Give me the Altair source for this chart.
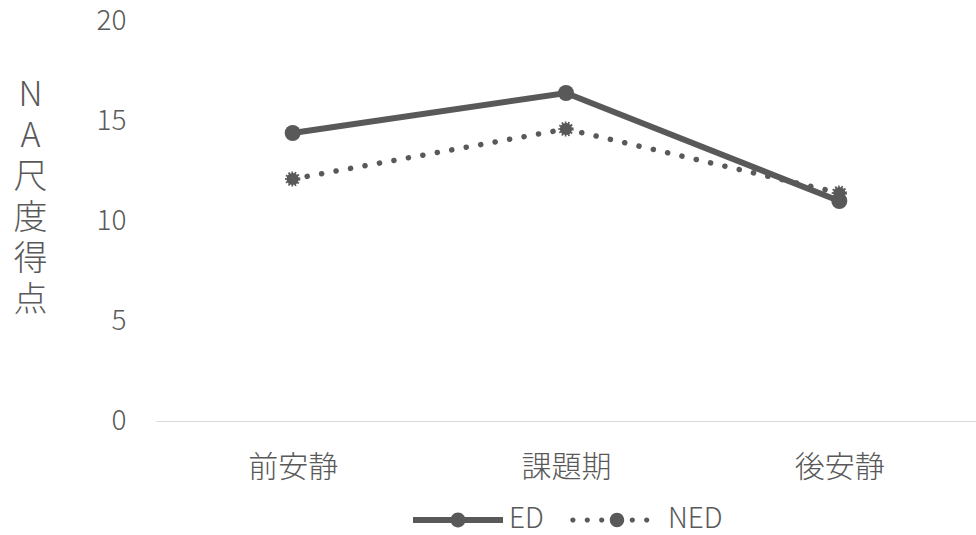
import altair as alt
import pandas as pd

# Period labels and mean NA scale scores per group
phases = ["前安静", "課題期", "後安静"]
series = ["ED", "NED"]
ed_scores = [14.4, 16.4, 11.0]
ned_scores = [12.1, 14.6, 11.4]
y_ticks = [0, 5, 10, 15, 20]
y_title = ["N", "A", "尺", "度", "得", "点"]

GRAY = "#595959"
AXIS_GRAY = "#d9d9d9"
FONT = "Noto Sans CJK JP"
WEIGHT = 300

df = pd.DataFrame({
    "phase": phases * 2,
    "group": ["ED"] * len(phases) + ["NED"] * len(phases),
    "score": ed_scores + ned_scores,
})


def circle_path(cx, r):
    return (f"M{cx - r:.3f},0A{r},{r} 0 1,1 {cx + r:.3f},0"
            f"A{r},{r} 0 1,1 {cx - r:.3f},0Z")


# Legend glyphs: a solid bar with a round marker, and a dotted run with a marker
ed_glyph = ("M-1,-0.064H-0.15V0.064H-1Z M0.15,-0.064H1V0.064H0.15Z "
            + circle_path(0, 0.165))
ned_glyph = " ".join(circle_path(c, 0.058) for c in (-0.98, -0.66, -0.34, 0.34, 0.66)) \
    + " " + circle_path(0, 0.16)

x = alt.X(
    "phase:N",
    sort=phases,
    scale=alt.Scale(domain=phases, type="point", padding=0.5),
    axis=alt.Axis(
        title=None, labelAngle=0, domainColor=AXIS_GRAY, domainWidth=1,
        ticks=False, labelPadding=31, labelFontSize=30, labelColor=GRAY,
        labelFont=FONT, labelFontWeight=WEIGHT,
    ),
)
y = alt.Y(
    "score:Q",
    scale=alt.Scale(domain=[0, 20]),
    axis=alt.Axis(
        values=y_ticks, grid=False, domain=False, ticks=False,
        labelPadding=30, labelFontSize=28, labelColor=GRAY, labelFont=FONT,
        labelFontWeight=WEIGHT,
        title=y_title, titleAngle=0, titleX=-126, titleY=74,
        titleAlign="center", titleBaseline="middle", titleFontSize=34,
        titleLineHeight=41, titleFontWeight=WEIGHT, titleColor=GRAY,
        titleFont=FONT,
    ),
)

base = alt.Chart(df).encode(x=x, y=y)
ed = base.transform_filter("datum.group == 'ED'")
ned = base.transform_filter("datum.group == 'NED'")

ed_line = ed.mark_line(color=GRAY, strokeWidth=6, strokeCap="round")
ed_pts = ed.mark_point(filled=True, shape="circle", size=256, color=GRAY, opacity=1)
ned_line = ned.mark_line(color=GRAY, strokeWidth=5.5, strokeDash=[0.1, 14.6],
                         strokeCap="round")
ned_pts = ned.mark_point(filled=True, shape="circle", size=150, color=GRAY,
                         stroke=GRAY, strokeWidth=3, strokeDash=[1.5, 1.5],
                         opacity=1)

# Invisible layer that only carries the legend
legend_layer = base.mark_point(filled=True, color=GRAY, opacity=0, size=8100).encode(
    shape=alt.Shape(
        "group:N",
        scale=alt.Scale(domain=series, range=[ed_glyph, ned_glyph]),
        legend=alt.Legend(
            title=None, orient="none", direction="horizontal", columns=2,
            legendX=257, legendY=454, symbolSize=8100, symbolOpacity=1,
            symbolFillColor=GRAY, symbolStrokeWidth=0, labelFontSize=28,
            labelColor=GRAY, labelFont=FONT, labelFontWeight=WEIGHT,
            labelOffset=6, columnPadding=26,
        ),
    )
)

chart = alt.layer(ed_line, ed_pts, ned_line, ned_pts, legend_layer).properties(
    width=820, height=400,
    padding={"left": 156, "top": 21, "right": 0, "bottom": 114},
    autosize="none",
    background="white",
).configure_view(stroke=None)

chart.save("out.html", embed_options={"renderer": "svg", "actions": False})
